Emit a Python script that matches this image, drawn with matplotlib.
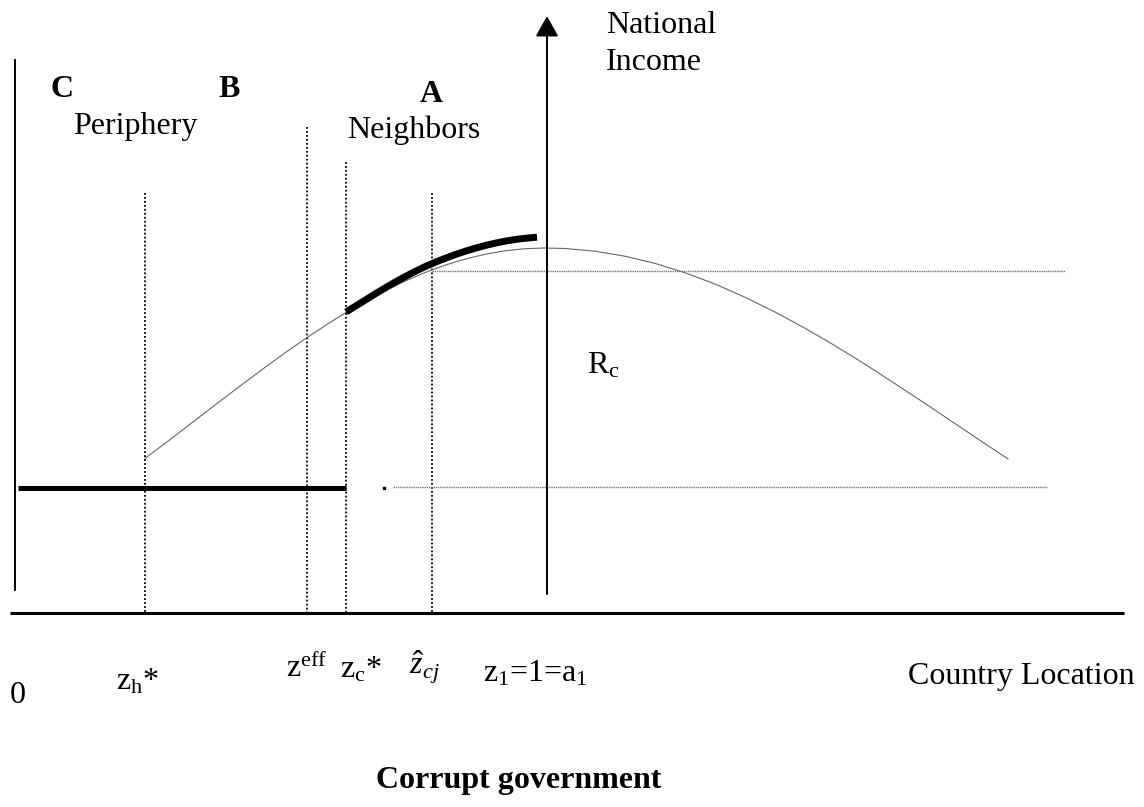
"""Corrupt government diagram: national income vs country location."""
import matplotlib
matplotlib.use("Agg")
import matplotlib.pyplot as plt

plt.rcParams["font.family"] = ["Liberation Serif", "DejaVu Serif"]
plt.rcParams["mathtext.fontset"] = "custom"
plt.rcParams["mathtext.rm"] = "Liberation Serif"
plt.rcParams["mathtext.it"] = "Liberation Serif:italic"
plt.rcParams["mathtext.bf"] = "Liberation Serif:bold"

FS = 23

# income curve (location, height)
curve_x = [145, 165, 185, 205, 225, 245, 265, 285, 305, 325, 345, 365, 385,
           405, 425, 445, 465, 485, 505, 525, 545, 565, 595, 625, 655, 685,
           715, 745, 775, 805, 835, 865, 895, 925, 955, 985, 1008]
curve_y = [458.4, 443.4, 428.1, 412.7, 397.4, 382.3, 367.4, 352.9, 338.9,
           325.7, 313.1, 301.5, 290.8, 281.1, 272.5, 265.2, 259.1, 254.3,
           250.8, 248.7, 248.0, 248.5, 251.2, 256.2, 263.4, 272.7, 284.0,
           297.2, 312.0, 328.2, 345.7, 364.2, 383.7, 403.4, 423.6, 443.7,
           458.9]

# thick segment: neighbours' income
thick_x = [346, 356, 366, 376, 386, 396, 406, 416, 426, 436, 446, 456, 466,
           476, 486, 496, 506, 514, 522, 530, 537]
thick_y = [312, 305.8, 299.6, 293.4, 287.4, 281.6, 276.2, 271, 266.2, 261.9,
           258, 254.3, 251, 248, 245.3, 243, 241, 239.7, 238.6, 237.8, 237.2]

# periphery income level
periph_x = [18, 346]
periph_y = [488, 488]

# reference levels (dotted)
level_hi_x = [432, 1065]
level_hi_y = [271, 271]
level_lo_x = [393, 1047]
level_lo_y = [487, 487]

# cutoff locations and top of each dotted marker
cut_x = [145, 307, 346, 432]
cut_top = [193, 127, 162, 193]
base_y = 613

axis_x = 547
cut_labels = ["z$_\\mathrm{h}$*", "z$^\\mathrm{eff}$", "z$_\\mathrm{c}$*",
              "$\\hat{z}_{cj}$"]
label_x = [116, 286, 340, 409]
label_y = [689, 677, 677, 675]

fig = plt.figure(figsize=(11.44, 8.07), dpi=100)
ax = fig.add_axes([0, 0, 1, 1])
ax.set_xlim(0, 1144)
ax.set_ylim(807, 0)
ax.axis("off")

# axes
ax.plot([10, 1124], [base_y, base_y], color="black", lw=2.2,
        solid_capstyle="butt")
ax.plot([15, 15], [60, 590], color="black", lw=1.4)
ax.annotate("", xy=(axis_x, 16), xytext=(axis_x, 594),
            arrowprops=dict(arrowstyle="-|>,head_length=0.9,head_width=0.5",
                            mutation_scale=14, color="black", lw=1.4,
                            shrinkA=0, shrinkB=0))

# dotted cutoffs
for x, top in zip(cut_x, cut_top):
    ax.plot([x, x], [top, base_y], color="black", lw=1.3,
            linestyle=(0, (1, 1.2)))

# curves
ax.plot(curve_x, curve_y, color="#666666", lw=0.8)
ax.plot(level_hi_x, level_hi_y, color="#777777", lw=1.0,
        linestyle=(0, (1, 0.6)))
ax.plot(level_lo_x, level_lo_y, color="#777777", lw=1.0,
        linestyle=(0, (1, 0.6)))
ax.plot(thick_x, thick_y, color="black", lw=5, solid_capstyle="butt",
        solid_joinstyle="round")
ax.plot(periph_x, periph_y, color="black", lw=3.6, solid_capstyle="butt")
ax.plot([384], [488], marker="s", ms=2, color="black")

# region labels
ax.text(50, 97, "C", fontsize=FS, fontweight="bold", va="baseline")
ax.text(218, 97, "B", fontsize=FS, fontweight="bold", va="baseline")
ax.text(420, 102, "A", fontsize=FS, fontweight="bold", va="baseline")
ax.text(73, 134, "Periphery", fontsize=FS, va="baseline")
ax.text(347, 138, "Neighbors", fontsize=FS, va="baseline")
ax.text(606, 33, "National", fontsize=FS, va="baseline")
ax.text(606, 70, "Income", fontsize=FS, va="baseline")
ax.text(587, 373, "R$_\\mathrm{c}$", fontsize=FS, va="baseline")

# location labels
ax.text(10, 703, "0", fontsize=FS, va="baseline")
for lab, x, y in zip(cut_labels, label_x, label_y):
    ax.text(x, y, lab, fontsize=FS, va="baseline")
ax.text(483, 681, "z$_\\mathrm{1}$=1=a$_\\mathrm{1}$", fontsize=FS,
        va="baseline")
ax.text(908, 684, "Country Location", fontsize=FS, va="baseline")
ax.text(519, 788, "Corrupt government", fontsize=FS, fontweight="bold",
        ha="center", va="baseline")

fig.savefig("out.png", dpi=100)
